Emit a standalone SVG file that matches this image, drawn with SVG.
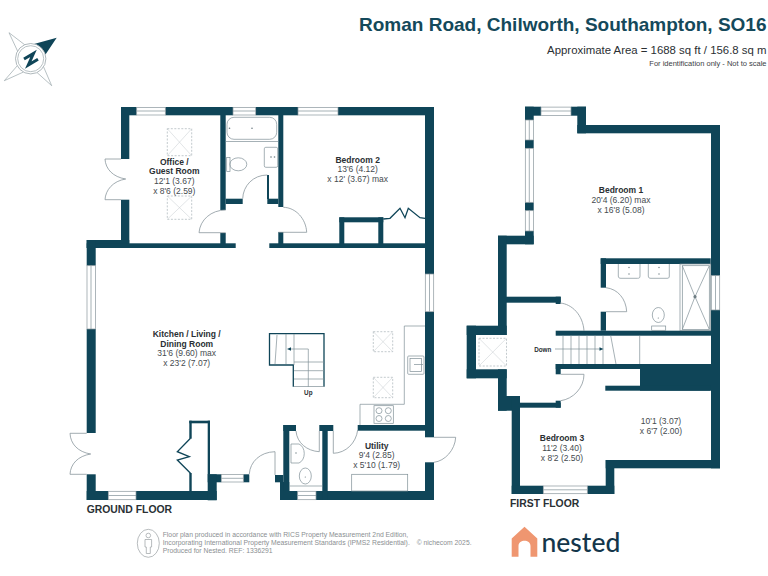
<svg xmlns="http://www.w3.org/2000/svg" width="768" height="576" viewBox="0 0 768 576">
<style>
.w{fill:#0f4558}
.t{fill:none;stroke:#7f8f96;stroke-width:.7}
.d{fill:none;stroke:#8a979d;stroke-width:.8}
.s{fill:none;stroke:#a9b3b7;stroke-width:.7;stroke-dasharray:2 1.5}
.x{fill:none;stroke:#c4cbce;stroke-width:.5}
.st{fill:none;stroke:#0f4558;stroke-width:1.3}
.win{fill:#fff;stroke:#8a979d;stroke-width:.7}
text{font-family:"Liberation Sans",Arial,sans-serif;fill:#333b3f;text-anchor:middle}
.b{font-weight:bold;font-size:8.5px;fill:#2a2f33}
.n{font-size:8.5px;fill:#454b4f}
.fl{font-weight:bold;font-size:10.4px;fill:#2a3034;text-anchor:start}
.f{font-size:6.8px;fill:#8b8f92;text-anchor:start}
</style>
<rect width="768" height="576" fill="#fff"/>
<!-- header -->
<text x="766.5" y="31" font-size="19" font-weight="bold" style="fill:#14495b;text-anchor:end">Roman Road, Chilworth, Southampton, SO16</text>
<text x="766.5" y="54" font-size="11.4" style="fill:#2b2f33;text-anchor:end">Approximate Area = 1688 sq ft / 156.8 sq m</text>
<text x="766.5" y="66" font-size="7.5" style="fill:#3c4145;text-anchor:end">For identification only - Not to scale</text>
<!-- compass -->
<g id="compass">
<path d="M9 32.700L18 52M9 32.700L25 45M51.700 85.700L43 65.500M51.700 85.700L37 72.500M4.300 80.700L17.500 65.500M4.300 80.700L23.500 72" fill="none" stroke="#9aa6ab" stroke-width=".7"/>
<path d="M56.700 37.700L34 44C39 46.500 43.500 50 45.500 54.500Z" fill="#0f4558"/>
<circle cx="30.700" cy="58.700" r="15.200" fill="#fff" stroke="#9aa6ab" stroke-width=".8"/>
<circle cx="30.700" cy="58.700" r="13" fill="none" stroke="#9aa6ab" stroke-width=".7"/>
<path d="M24 59L33.500 53.500L28.300 65L38 59.300" fill="none" stroke="#0f4558" stroke-width="3"/>
</g>
<!-- ground floor walls -->
<g id="ground-floor-walls" class="w">
<rect x="121" y="107" width="15.700" height="8.300"/><rect x="165.300" y="107" width="67.700" height="8.300"/><rect x="255.700" y="107" width="42.300" height="8.300"/><rect x="338" y="107" width="96" height="8.300"/>
<rect x="121" y="107" width="8.300" height="52"/><rect x="121" y="199.700" width="8.300" height="48"/>
<rect x="86.700" y="240" width="42.600" height="8"/>
<rect x="86.700" y="243.300" width="149" height="4.700"/><rect x="269.300" y="243.300" width="164.700" height="4.700"/>
<rect x="220.300" y="115" width="5.400" height="95"/><rect x="220.300" y="233" width="5.400" height="12"/>
<rect x="278.300" y="115" width="5" height="92"/><rect x="278.300" y="232" width="5" height="12"/>
<rect x="225.700" y="198.700" width="17" height="5.300"/><rect x="267.300" y="198.700" width="11" height="5.300"/><rect x="267" y="175" width="2" height="24"/>
<rect x="339.300" y="217.300" width="44" height="5"/><rect x="339.300" y="217.300" width="5" height="27"/><rect x="378.300" y="217.300" width="5" height="27"/>
<rect x="86.700" y="240" width="9" height="25.700"/><rect x="86.700" y="329" width="9" height="104"/>
<rect x="425" y="107" width="9" height="167"/><rect x="425" y="311.700" width="9" height="125.600"/><rect x="425" y="462.300" width="9" height="37.700"/>
<rect x="86.700" y="474.300" width="9" height="25.700"/>
<rect x="86.700" y="491" width="21.600" height="9"/><rect x="136" y="491" width="80.700" height="9"/>
<rect x="207.700" y="420.700" width="2.300" height="54"/><rect x="189.300" y="420.700" width="20.700" height="2.600"/><rect x="189.300" y="420.700" width="2.400" height="18"/><rect x="189.300" y="473" width="2.400" height="18"/>
<rect x="207.700" y="474.300" width="13.600" height="8"/><rect x="207.700" y="474.300" width="9" height="26"/>
<rect x="243.300" y="474.300" width="6" height="8"/>
<rect x="275" y="475" width="8.300" height="7.300"/><rect x="280" y="482" width="9.300" height="18"/><rect x="283.300" y="425" width="6" height="75"/><rect x="283.300" y="425" width="12.700" height="6"/>
<rect x="280" y="491" width="17.700" height="9"/><rect x="316" y="491" width="118" height="9"/>
<rect x="322.300" y="425" width="5.400" height="75"/><rect x="319.300" y="425" width="14" height="6"/>
<rect x="357.700" y="425" width="76.300" height="5.700"/>
</g>
<!-- ground floor windows -->
<g id="ground-floor-windows">
<rect class="win" x="136.700" y="107.400" width="28.600" height="7.600"/><path class="t" d="M136.700 111H165.300"/>
<rect class="win" x="233" y="107.400" width="22.700" height="7.600"/><path class="t" d="M233 111H255.700"/>
<rect class="win" x="298" y="107.400" width="40" height="7.600"/><path class="t" d="M298 111H338"/>
<rect class="win" x="87" y="265.700" width="8.400" height="63.300"/><path class="t" d="M91 265.700V329"/>
<rect class="win" x="425.300" y="274" width="8.400" height="37.700"/><path class="t" d="M429.500 274V311.700"/>
<rect class="win" x="108.300" y="491.300" width="27.700" height="8.400"/><path class="t" d="M108.300 495.500H136"/>
<rect class="win" x="221.300" y="474.600" width="22" height="7.400"/><path class="t" d="M221.300 478.300H243.300"/>
<rect class="win" x="297.700" y="491.300" width="18.300" height="8.400"/><path class="t" d="M297.700 495.500H316"/>
</g>
<!-- ground floor doors and fittings -->
<g id="ground-floor-doors">
<path class="d" d="M121 159H105C105.500 169 113 177 125.700 179C113 181 105.500 190 105 199.700H121"/>
<path class="d" d="M225.700 232.700H199C200 220 211 210 225.700 210"/>
<path class="d" d="M278.300 232.300H306.700C306 219 296 207.500 283.300 207.300"/>
<path class="d" d="M242.700 198.700C243 186 253 175 267.300 175"/>
<path class="st" d="M383.300 219L390 218.300L400 208.300L405 217.700L408.300 208.300L420 217.700L425 218.300" stroke-width="1"/>
<path class="st" d="M190.500 438.300L177.300 451.700L189.300 456.700L177.300 460L190.500 473.300"/>
<path class="d" d="M86.700 433.300H70C70.500 444 78 452 90.700 454C78 456 70.500 464 70 474.300H86.700"/>
<path class="d" d="M249.300 474C250 462 260 452 275 451.700V475"/>
<path class="d" d="M296 431C297 443 307 451 319.300 451.700V431"/>
<path class="d" d="M333.300 431V453.300C346 453 356 443 357.700 430"/>
<path class="d" d="M434 437.300H455.700C455 450 445 461 434 462.300"/>
<rect class="t" x="227" y="117.300" width="49.700" height="22" rx="7"/>
<path class="t" d="M225.700 141.500H278.300M289.300 486H322.300M360 425V404.300H404.300V326H425"/>
<circle cx="252" cy="128.300" r=".8" fill="#6e7d83"/><circle cx="229.500" cy="128.300" r=".8" fill="#6e7d83"/>
<rect class="t" x="264.300" y="147.300" width="13.400" height="20" rx="1.500"/><circle cx="271" cy="157" r=".8" fill="#6e7d83"/><circle cx="274.500" cy="157" r=".8" fill="#6e7d83"/>
<ellipse class="t" cx="238.300" cy="164.300" rx="8.500" ry="6.500"/><rect class="t" x="226.700" y="157.500" width="3.300" height="14"/>
<path class="t" d="M291 444H299C306 447 306 460 299 463H291Z"/><circle cx="296" cy="453" r=".7" fill="#6e7d83"/>
<ellipse class="t" cx="305.300" cy="476" rx="6" ry="8"/><circle cx="305.300" cy="477" r=".6" fill="#6e7d83"/>
<rect class="t" x="351.700" y="474.300" width="56" height="16.700"/>
<rect class="t" x="407.700" y="356" width="16.300" height="18.300" rx="1"/><rect class="t" x="410" y="358.500" width="11.500" height="13"/><path class="t" d="M414 364.500H423"/>
<rect class="t" x="374" y="405.700" width="19.300" height="17.600"/><g class="t"><circle cx="379" cy="410.700" r="3"/><circle cx="388.300" cy="410.700" r="3"/><circle cx="379" cy="418.500" r="3"/><circle cx="388.300" cy="418.500" r="3"/></g>
<rect class="s" x="167.300" y="128.700" width="24.400" height="27"/><path class="x" d="M167.300 128.700L191.700 155.700M191.700 128.700L167.300 155.700"/>
<rect class="s" x="167.300" y="196" width="24.400" height="23.300"/><path class="x" d="M167.300 196L191.700 219.300M191.700 196L167.300 219.300"/>
<rect class="s" x="373.300" y="331.700" width="19.400" height="20"/><path class="x" d="M373.300 331.700L392.700 351.700M392.700 331.700L373.300 351.700"/>
<rect class="s" x="373.300" y="377.300" width="19.400" height="20.400"/><path class="x" d="M373.300 377.300L392.700 397.700M392.700 377.300L373.300 397.700"/>
</g>
<!-- ground floor stairs -->
<g id="ground-floor-stairs">
<path class="st" d="M293.300 386.700V365H269.500V333.700H324V386.700"/>
<path class="t" d="M277 335L275 364M286 334V364M294 334V365M294 362H324M294 370.700H324M294 379H324M294 386.500H324M308.300 386.700V349H289"/>
<path d="M287 349L291 347.300V350.700Z" fill="#0f4558"/>
</g>
<!-- first floor walls -->
<g id="first-floor-walls" class="w">
<rect x="525" y="106.700" width="16" height="9"/><rect x="571" y="106.700" width="15" height="9"/>
<rect x="577.300" y="106.700" width="8.700" height="26.600"/><rect x="577.300" y="125" width="142.700" height="8.300"/>
<rect x="711" y="125" width="9" height="150.700"/><rect x="711" y="310" width="9" height="158.300"/>
<rect x="525" y="106.700" width="8.700" height="13.300"/><rect x="525" y="140" width="8.700" height="8.300"/><rect x="525" y="202.300" width="8.700" height="8.400"/><rect x="525" y="231" width="8.700" height="13.300"/>
<rect x="498" y="235.700" width="35.700" height="8.600"/><rect x="498" y="235.700" width="8.700" height="99.300"/>
<rect x="466.700" y="325.700" width="40" height="9.300"/><rect x="466.700" y="325.700" width="9.300" height="52.600"/><rect x="466.700" y="369.300" width="40" height="9"/>
<rect x="498" y="369.300" width="8.700" height="41.400"/><rect x="498" y="396" width="22" height="14.700"/>
<rect x="511.700" y="396" width="8.300" height="98"/><rect x="511.700" y="485.700" width="31.600" height="8.300"/><rect x="587.300" y="485.700" width="27" height="8.300"/>
<rect x="605.700" y="460" width="8.600" height="34"/><rect x="605.700" y="460" width="114.300" height="8.300"/>
<rect x="640" y="364" width="71" height="26.700"/><rect x="605.300" y="385.700" width="105" height="5"/>
<rect x="555.700" y="330.700" width="155.300" height="5"/><rect x="555.700" y="364" width="84.300" height="5"/><rect x="555.700" y="364" width="5" height="10.300"/>
<rect x="555.700" y="400.700" width="5" height="7"/><rect x="520" y="402.700" width="40.700" height="5"/>
<rect x="506" y="296.700" width="54.700" height="6"/><rect x="555.700" y="296.700" width="5" height="7.300"/>
<rect x="600.700" y="258.300" width="5.300" height="29.400"/><rect x="600.700" y="311.700" width="5.300" height="19"/><rect x="600.700" y="258.300" width="110" height="5.700"/>
</g>
<!-- first floor windows -->
<g id="first-floor-windows">
<rect class="win" x="541" y="107.100" width="30" height="8.300"/><path class="t" d="M541 111H571"/>
<rect class="win" x="525.300" y="120" width="8.100" height="20"/><path class="t" d="M529.300 120V140"/>
<rect class="win" x="525.300" y="148.300" width="8.100" height="54"/><path class="t" d="M529.300 148.300V202.300"/>
<rect class="win" x="525.300" y="210.700" width="8.100" height="20.300"/><path class="t" d="M529.300 210.700V231"/>
<rect class="win" x="711.300" y="275.700" width="8.400" height="34.300"/><path class="t" d="M715.500 275.700V310"/>
<rect class="win" x="543.300" y="486" width="44" height="7.700"/><path class="t" d="M543.300 489.800H587.300"/>
</g>
<!-- first floor doors and fittings -->
<g id="first-floor-doors">
<path class="d" d="M560 303C572 304 583 315 584 331"/>
<path class="d" d="M560.700 374.300H584C584 388 573 399 560.700 400.700"/>
<path class="d" d="M606 287.700C618 289 626 299 626.700 311.700H606"/>
<path class="t" d="M618.300 264V276C618.300 278 619.500 278.300 621 278.300H637.500C639 278.300 640 278 640 276V264M648.300 264V276C648.300 278 649.500 278.300 651 278.300H667C668.500 278.300 669.300 278 669.300 276V264"/>
<circle cx="629" cy="267.500" r=".7" fill="#6e7d83"/><circle cx="629" cy="274" r=".7" fill="#6e7d83"/><circle cx="659" cy="267.500" r=".7" fill="#6e7d83"/><circle cx="659" cy="274" r=".7" fill="#6e7d83"/>
<rect class="t" x="680" y="264" width="30.700" height="66.700"/><rect class="t" x="682.300" y="265.700" width="27" height="63.700"/>
<path class="t" d="M682.300 265.700L695 296.700L709.300 265.700M682.300 329.400L695 296.700L709.300 329.400"/><circle cx="695" cy="296.700" r="1.600" fill="#6e7d83"/>
<ellipse class="t" cx="658.300" cy="315" rx="6" ry="7.500"/><circle cx="658.300" cy="318" r=".6" fill="#6e7d83"/><rect class="t" x="651.700" y="326" width="14" height="4.300"/>
<rect class="s" x="479" y="338.300" width="27.500" height="27.700"/><path class="x" d="M479 338.300L506.500 366M506.500 338.300L479 366"/>
</g>
<!-- first floor stairs -->
<g id="first-floor-stairs">
<path class="t" d="M563 335.700V364M571 335.700V364M579 335.700V364M587 335.700V364M595 335.700V364M603 335.700V364M610.700 335.700L616 364M639.700 335.700V364M555 349H601"/>
<path d="M603.500 349L599.500 347.300V350.700Z" fill="#0f4558"/>
</g>
<!-- labels -->
<g id="labels">
<text class="b" x="174.300" y="164.500">Office /</text><text class="b" x="174.300" y="174.300">Guest Room</text><text class="n" x="174.300" y="184">12'1 (3.67)</text><text class="n" x="174.300" y="193.700">x 8'6 (2.59)</text>
<text class="b" x="357.700" y="162.500">Bedroom 2</text><text class="n" x="357.700" y="172">13'6 (4.12)</text><text class="n" x="357.700" y="181.700">x 12' (3.67) max</text>
<text class="b" x="186.700" y="337">Kitchen / Living /</text><text class="b" x="186.700" y="346.700">Dining Room</text><text class="n" x="186.700" y="356">31'6 (9.60) max</text><text class="n" x="186.700" y="366">x 23'2 (7.07)</text>
<text class="b" x="308.300" y="394.500" style="font-size:6.300px">Up</text>
<text class="b" x="376.700" y="448.500">Utility</text><text class="n" x="376.700" y="458">9'4 (2.85)</text><text class="n" x="376.700" y="468">x 5'10 (1.79)</text>
<text class="b" x="621" y="193">Bedroom 1</text><text class="n" x="621" y="202.700">20'4 (6.20) max</text><text class="n" x="621" y="212.500">x 16'8 (5.08)</text>
<text class="b" x="542.700" y="351.500" style="font-size:6.300px">Down</text>
<text class="b" x="562" y="441.300">Bedroom 3</text><text class="n" x="562" y="451">11'2 (3.40)</text><text class="n" x="562" y="460.500">x 8'2 (2.50)</text>
<text class="n" x="661" y="424.300">10'1 (3.07)</text><text class="n" x="661" y="434">x 6'7 (2.00)</text>
<text class="fl" x="86.700" y="513">GROUND FLOOR</text>
<text class="fl" x="510" y="506.800">FIRST FLOOR</text>
</g>
<!-- footer -->
<g id="footer">
<ellipse cx="148.300" cy="543.300" rx="11" ry="14" fill="none" stroke="#9a9fa2" stroke-width=".7"/>
<circle cx="148.300" cy="535.500" r="2.300" fill="none" stroke="#9a9fa2" stroke-width=".7"/><path d="M145 539.500H151.600V547H150.300V553.500H146.300V547H145Z" fill="none" stroke="#9a9fa2" stroke-width=".7"/>
<text class="f" x="162.700" y="537">Floor plan produced in accordance with RICS Property Measurement 2nd Edition,</text>
<text class="f" x="162.700" y="545">Incorporating International Property Measurement Standards (IPMS2 Residential).</text>
<text class="f" x="416.700" y="545">© nichecom 2025.</text>
<text class="f" x="162.700" y="553">Produced for Nested.  REF:  1336291</text>
<path d="M524.500 526.700L537.300 538.500V556.700H530.500V546C530.500 539 518.500 539 518.500 546V556.700H511.700V538.500Z" fill="#ef9670"/>
<text x="541.500" y="551.500" font-size="26.500" style="font-family:Lato,sans-serif;fill:#14364a;text-anchor:start;font-weight:500">nested</text>
</g>
</svg>
